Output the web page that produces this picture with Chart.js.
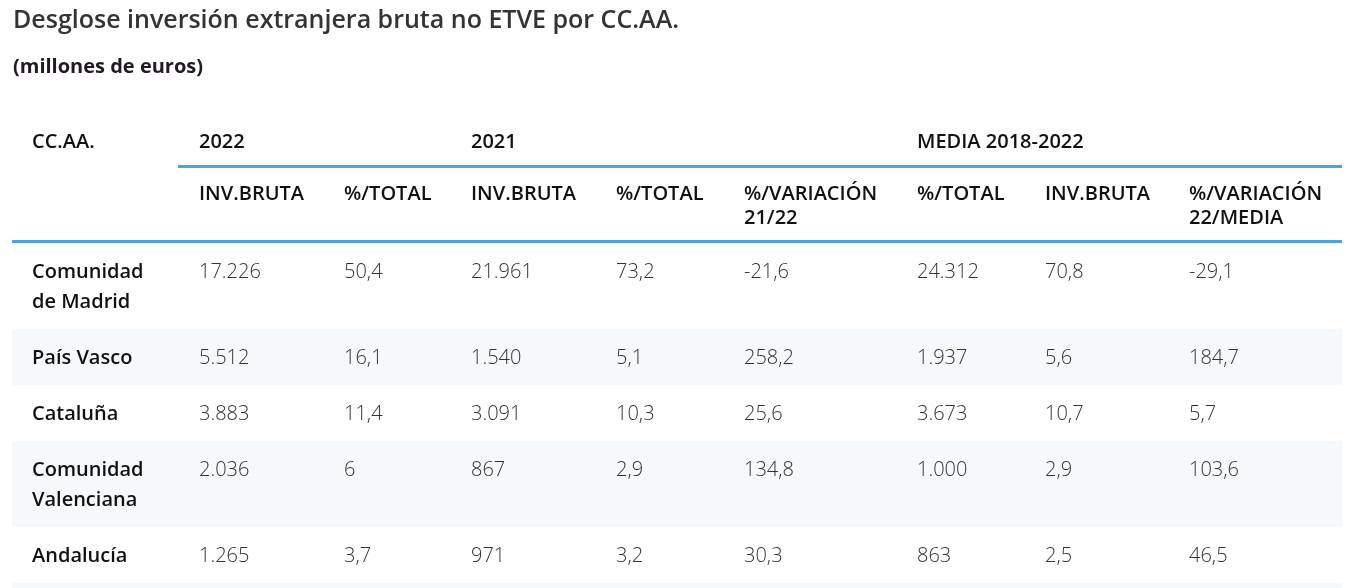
<!DOCTYPE html>
<html lang="es">
<head>
<meta charset="utf-8">
<title>Desglose inversión extranjera bruta no ETVE por CC.AA.</title>
<script src="https://cdn.jsdelivr.net/npm/chart.js@4.4.0/dist/chart.umd.min.js"></script>
<style>
    html, body { margin: 0; padding: 0; background: #fff; }
    #wrap { width: 1362px; height: 588px; position: relative; }
</style>
</head>
<body>
<div id="wrap"><canvas id="tableChart"></canvas></div>
<script>
// ===== Data =====
const title = "Desglose inversión extranjera bruta no ETVE por CC.AA.";
const subtitle = "(millones de euros)";

const groupHeaders = ["2022", "2021", "MEDIA 2018-2022"];
const groupStartCol = [0, 2, 5];
const columnHeaders = [
    ["INV.BRUTA"], ["%/TOTAL"], ["INV.BRUTA"], ["%/TOTAL"], ["%/VARIACIÓN", "21/22"],
    ["%/TOTAL"], ["INV.BRUTA"], ["%/VARIACIÓN", "22/MEDIA"]
];

const regions = ["Comunidad de Madrid", "País Vasco", "Cataluña", "Comunidad Valenciana", "Andalucía"];

const inv2022 = [17226, 5512, 3883, 2036, 1265];
const pct2022 = [50.4, 16.1, 11.4, 6, 3.7];
const inv2021 = [21961, 1540, 3091, 867, 971];
const pct2021 = [73.2, 5.1, 10.3, 2.9, 3.2];
const var2122 = [-21.6, 258.2, 25.6, 134.8, 30.3];
const mediaTotal = [24312, 1937, 3673, 1000, 863];
const mediaInv = [70.8, 5.6, 10.7, 2.9, 2.5];
const var22Media = [-29.1, 184.7, 5.7, 103.6, 46.5];

const columns = [
    { values: inv2022, integer: true },
    { values: pct2022 },
    { values: inv2021, integer: true },
    { values: pct2021 },
    { values: var2122 },
    { values: mediaTotal, integer: true },
    { values: mediaInv },
    { values: var22Media }
];

// ===== Layout / style =====
const W = 1362, H = 588;
const FONT = "'Open Sans', 'Noto Sans', sans-serif";
const BLUE = "#4ea3dc";
const STRIPE = "#f6f9fc";
const labelX = 32;
const colX = [199, 344, 471, 616, 744, 917, 1045, 1189];
const tableLeft = 12, tableRight = 1342;

function fmt(v, integer) {
    if (integer) return String(v).replace(/\B(?=(\d{3})+(?!\d))/g, ".");
    return String(v).replace(".", ",");
}

function wrap(ctx, text, maxWidth) {
    const words = text.split(" ");
    const lines = [];
    let line = "";
    words.forEach(w => {
        const test = line ? line + " " + w : w;
        if (line && ctx.measureText(test).width > maxWidth) {
            lines.push(line);
            line = w;
        } else {
            line = test;
        }
    });
    lines.push(line);
    return lines;
}

const tablePlugin = {
    id: "tablePlugin",
    afterDraw(chart) {
        const ctx = chart.ctx;
        const sx = chart.scales.x, sy = chart.scales.y;
        const px = v => sx.getPixelForValue(v);
        const py = v => sy.getPixelForValue(v);

        ctx.save();
        ctx.textBaseline = "alphabetic";
        ctx.textAlign = "left";

        // title
        ctx.fillStyle = "#333";
        ctx.font = "600 25px " + FONT;
        ctx.fillText(title, px(13), py(28));
        ctx.fillStyle = "#221a22";
        ctx.font = "700 20px " + FONT;
        ctx.fillText(subtitle, px(13), py(73));

        // group headers
        ctx.fillStyle = "#111";
        ctx.font = "600 20px " + FONT;
        ctx.fillText("CC.AA.", px(labelX), py(148));
        groupHeaders.forEach((g, i) => {
            ctx.fillText(g, px(colX[groupStartCol[i]]), py(148));
        });

        ctx.fillStyle = BLUE;
        ctx.fillRect(px(178), py(165), px(tableRight) - px(178), 3);

        ctx.fillStyle = "#111";
        columnHeaders.forEach((lines, c) => {
            lines.forEach((l, k) => ctx.fillText(l, px(colX[c]), py(200 + k * 24)));
        });

        ctx.fillStyle = BLUE;
        ctx.fillRect(px(tableLeft), py(240), px(tableRight) - px(tableLeft), 3);

        // body rows
        let top = 243;
        regions.forEach((r, i) => {
            ctx.font = "600 20px " + FONT;
            const lines = wrap(ctx, r, 135);
            const h = 56 + 30 * (lines.length - 1);
            if (i % 2 === 1) {
                ctx.fillStyle = STRIPE;
                ctx.fillRect(px(tableLeft), py(top), px(tableRight) - px(tableLeft), h);
            }
            const base = top + 35;
            ctx.fillStyle = "#111";
            lines.forEach((l, k) => ctx.fillText(l, px(labelX), py(base + k * 30)));

            ctx.fillStyle = "#333";
            ctx.font = "300 20px " + FONT;
            columns.forEach((col, c) => {
                ctx.fillText(fmt(col.values[i], col.integer), px(colX[c]), py(base));
            });
            top += h;
        });
        // striping continues below the visible rows
        if (regions.length % 2 === 1) {
            ctx.fillStyle = STRIPE;
            ctx.fillRect(px(tableLeft), py(top), px(tableRight) - px(tableLeft), H - top);
        }
        ctx.restore();
    }
};

const chart = new Chart(document.getElementById("tableChart").getContext("2d"), {
    type: "scatter",
    data: { datasets: [] },
    options: {
        responsive: true,
        maintainAspectRatio: false,
        animation: false,
        events: [],
        layout: { padding: 0 },
        plugins: { legend: { display: false }, tooltip: { enabled: false } },
        scales: {
            x: { type: "linear", display: false, min: 0, max: W },
            y: { type: "linear", display: false, min: 0, max: H, reverse: true }
        }
    },
    plugins: [tablePlugin]
});
</script>
</body>
</html>
